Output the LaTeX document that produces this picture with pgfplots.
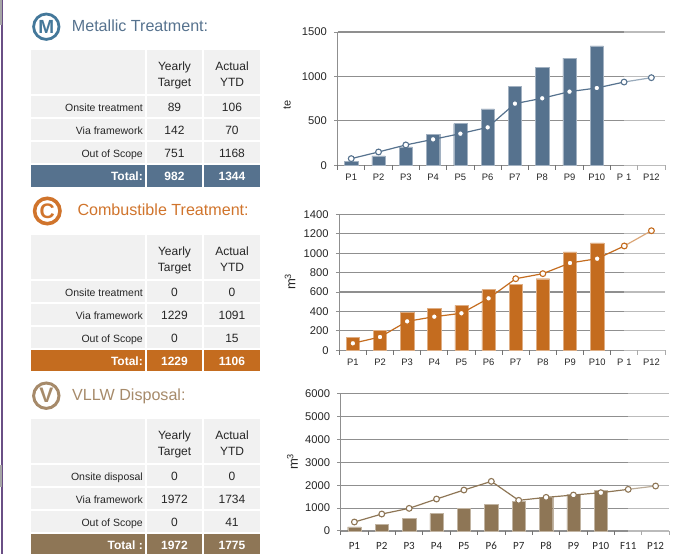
\documentclass[border=0pt]{standalone}
\usepackage{fontspec}
\setmainfont{Liberation Sans}
\newfontfamily\carlito{Carlito}
\usepackage{pgfplots}
\pgfplotsset{compat=1.18}
\definecolor{cblue}{HTML}{56728E}
\definecolor{corange}{HTML}{C46C1F}
\definecolor{cbrown}{HTML}{8E7656}
\definecolor{cring}{HTML}{44789A}
\definecolor{cringb}{HTML}{A68A6A}
\definecolor{corlight}{HTML}{D0742C}
\definecolor{cellg}{HTML}{F1F1F1}
\definecolor{gridg}{HTML}{8F8F8F}
\definecolor{txt}{HTML}{262626}
\definecolor{purp}{HTML}{6A4F85}
\newcommand{\fs}[1]{\fontsize{#1}{#1}\selectfont}
\newcommand{\cell}[5]{\fill[#5] (#1pt,-#2pt) rectangle (#3pt,-#4pt);}
\newcommand{\theadrow}[1]{%
 \pgfmathsetmacro{\yb}{#1+43.7}\pgfmathsetmacro{\ya}{#1+20.7}\pgfmathsetmacro{\yc}{#1+36}%
 \cell{31}{#1}{145}{\yb}{cellg}\cell{147}{#1}{202}{\yb}{cellg}\cell{204}{#1}{260}{\yb}{cellg}%
 \node[anchor=base,text=txt,font=\fs{12},inner sep=0pt] at (174.5pt,-\ya pt) {Yearly};%
 \node[anchor=base,text=txt,font=\fs{12},inner sep=0pt] at (174.5pt,-\yc pt) {Target};%
 \node[anchor=base,text=txt,font=\fs{12},inner sep=0pt] at (232pt,-\ya pt) {Actual};%
 \node[anchor=base,text=txt,font=\fs{12},inner sep=0pt] at (232pt,-\yc pt) {YTD};}
\newcommand{\trow}[4]{%
 \pgfmathsetmacro{\yb}{#1+20.7}\pgfmathsetmacro{\ym}{#1+15}%
 \cell{31}{#1}{145}{\yb}{cellg}\cell{147}{#1}{202}{\yb}{cellg}\cell{204}{#1}{260}{\yb}{cellg}%
 \node[anchor=base east,text=txt,font=\fs{10.5},inner sep=0pt] at (143pt,-\ym pt) {#2};%
 \node[anchor=base,text=txt,font=\fs{12},inner sep=0pt] at (174.5pt,-\ym pt) {#3};%
 \node[anchor=base,text=txt,font=\fs{12},inner sep=0pt] at (232pt,-\ym pt) {#4};}
\newcommand{\ttotal}[6]{%
 \pgfmathsetmacro{\ym}{#1+15.2}%
 \cell{31}{#1}{145}{#2}{#3}\cell{147}{#1}{202}{#2}{#3}\cell{204}{#1}{260}{#2}{#3}%
 \node[anchor=base east,text=white,font=\fs{12}\bfseries,inner sep=0pt] at (143pt,-\ym pt) {#4};%
 \node[anchor=base,text=white,font=\fs{12}\bfseries,inner sep=0pt] at (174.5pt,-\ym pt) {#5};%
 \node[anchor=base,text=white,font=\fs{12}\bfseries,inner sep=0pt] at (232pt,-\ym pt) {#6};}
\newcommand{\icon}[6]{%
 \draw[#3,line width=#5pt] (#1pt,-#2pt) circle (12.7pt);%
 \node[text=#3,font=\fs{#6}\bfseries,inner sep=0pt] at (#1pt,-#2pt) {#4};}
\newcommand{\boundaryticks}{\pgfplotsinvokeforeach{-0.5,0.5,1.5,2.5,3.5,4.5,5.5,6.5,7.5,8.5,9.5,10.5,11.5}{\draw[gridg!80!black,line width=1pt] (axis cs:##1,0) -- ++(0pt,-4.5pt);}}
\pgfplotsset{chart/.style={
  scale only axis, anchor=north west,
  axis x line*=bottom, axis y line*=left,
  axis line style={gridg,line width=1.4pt,-},
  enlargelimits=false, xmin=-0.5, xmax=11.5, ymin=0, clip=false,
  xtick={0,1,2,3,4,5,6,7,8,9,10,11},
  major x tick style={draw=none},
  xticklabel style={font=\fs{9.4},text=txt,inner sep=0pt,yshift=-4.5pt,text height=7pt,text depth=0pt},
  xticklabels={P1,P2,P3,P4,P5,P6,P7,P8,P9,P10,P\hspace{3pt}1,P12},
  major tick length=3.5pt,
  tick align=outside,
  y tick style={gridg,line width=1pt},
  ymajorgrids, grid style={gridg,line width=1.1pt},
  /pgf/number format/assume math mode=true,
  /pgf/number format/1000 sep={},
  yticklabel style={font=\fs{11.2},text=txt,inner sep=0pt,xshift=-7pt},
},
bars/.style={ybar,bar width=13.3pt,fill=#1,draw=white!45!#1,line width=0.4pt},
ln/.style={#1,line width=1.2pt,mark=*,mark size=2.9pt,mark options={fill=white,draw=#1,line width=1.1pt}}}
\begin{document}
\begin{tikzpicture}
\path[use as bounding box] (0pt,0pt) rectangle (678pt,-554pt);
% edge stripe
\fill[purp] (0.5pt,0pt) rectangle (2.5pt,-554pt);
\fill[gray!70] (0pt,0pt) rectangle (1.5pt,-25pt);
\fill[gray!70] (0pt,-465pt) rectangle (1.5pt,-487pt);
% headings
\icon{46.3}{26.7}{cring}{M}{2.8}{19}
\node[anchor=base west,text=cblue,font=\fs{16.1},inner sep=0pt] at (71.7pt,-31pt) {Metallic Treatment:};
\icon{47.3}{211}{corlight}{C}{3.6}{21}
\node[anchor=base west,text=corlight,font=\fs{16.1},inner sep=0pt] at (77.3pt,-215pt) {Combustible Treatment:};
\icon{46.3}{395.7}{cringb}{V}{3}{21}
\node[anchor=base west,text=cringb,font=\fs{16.1},inner sep=0pt] at (72pt,-400pt) {VLLW Disposal:};
% tables
\theadrow{50}
\trow{96}{Onsite treatment}{89}{106}
\trow{119}{Via framework}{142}{70}
\trow{142}{Out of Scope}{751}{1168}
\ttotal{165}{187}{cblue}{Total:}{982}{1344}
\theadrow{235}
\trow{281}{Onsite treatment}{0}{0}
\trow{304}{Via framework}{1229}{1091}
\trow{327}{Out of Scope}{0}{15}
\ttotal{350}{371}{corange}{Total:}{1229}{1106}
\theadrow{419}
\trow{465}{Onsite disposal}{0}{0}
\trow{488}{Via framework}{1972}{1734}
\trow{511}{Out of Scope}{0}{41}
\ttotal{534}{554}{cbrown}{Total :}{1972}{1775}
% chart 1
\begin{axis}[chart, at={(337.6pt,-32pt)}, width=327.4pt, height=133.3pt,
  ymax=1500, ytick={0,500,1000,1500}, ylabel={te},
  every axis y label/.style={at={(axis description cs:-0.154,0.452)},rotate=90,anchor=center,font=\fs{11},text=txt}]
\addplot[bars=cblue] coordinates {(0,45)(1,105)(2,206)(3,352)(4,469)(5,634)(6,892)(7,1102)(8,1207)(9,1344)};
\addplot[ln=cblue] coordinates {(0,75)(1,150)(2,229)(3,292)(4,356)(5,427)(6,694)(7,754)(8,829)(9,870)(10,937)(11,986)};
\boundaryticks
\fill[white,opacity=0.4] (axis cs:10,-60) rectangle (axis cs:11.6,1530);
\end{axis}
% chart 2
\begin{axis}[chart, at={(339.3pt,-214.3pt)}, width=325.7pt, height=136pt,
  ymax=1400, ytick={0,200,400,600,800,1000,1200,1400}, ylabel={m\textsuperscript{3}},
  every axis y label/.style={at={(axis description cs:-0.151,0.504)},rotate=90,anchor=center,font=\fs{13},text=txt}]
\addplot[bars=corange] coordinates {(0,130)(1,206)(2,388)(3,432)(4,463)(5,624)(6,676)(7,737)(8,1012)(9,1105)};
\addplot[ln=corange] coordinates {(0,72)(1,137)(2,298)(3,346)(4,381)(5,535)(6,737)(7,789)(8,899)(9,943)(10,1074)(11,1231)};
\boundaryticks
\fill[white,opacity=0.4] (axis cs:10,-60) rectangle (axis cs:11.6,1430);
\end{axis}
% chart 3
\begin{axis}[chart, at={(340.7pt,-393.7pt)}, width=328.6pt, height=137.3pt,
  ymax=6000, ytick={0,1000,2000,3000,4000,5000,6000}, ylabel={m\textsuperscript{3}},
  xticklabels={P1,P2,P3,P4,P5,P6,P7,P8,P9,P10,F11,P12},
  xticklabel style={font=\carlito\fs{11},text=txt,inner sep=0pt,yshift=-3pt,text height=7pt,text depth=0pt},
  every axis y label/.style={at={(axis description cs:-0.147,0.505)},rotate=90,anchor=center,font=\fs{13},text=txt}]
\addplot[bars=cbrown] coordinates {(0,175)(1,291)(2,568)(3,757)(4,990)(5,1179)(6,1310)(7,1470)(8,1616)(9,1762)};
\addplot[ln=cbrown] coordinates {(0,393)(1,742)(2,990)(3,1398)(4,1791)(5,2169)(6,1340)(7,1470)(8,1572)(9,1674)(10,1820)(11,1966)};
\boundaryticks
\fill[white,opacity=0.4] (axis cs:10,-260) rectangle (axis cs:11.6,6100);
\end{axis}
\end{tikzpicture}
\end{document}
